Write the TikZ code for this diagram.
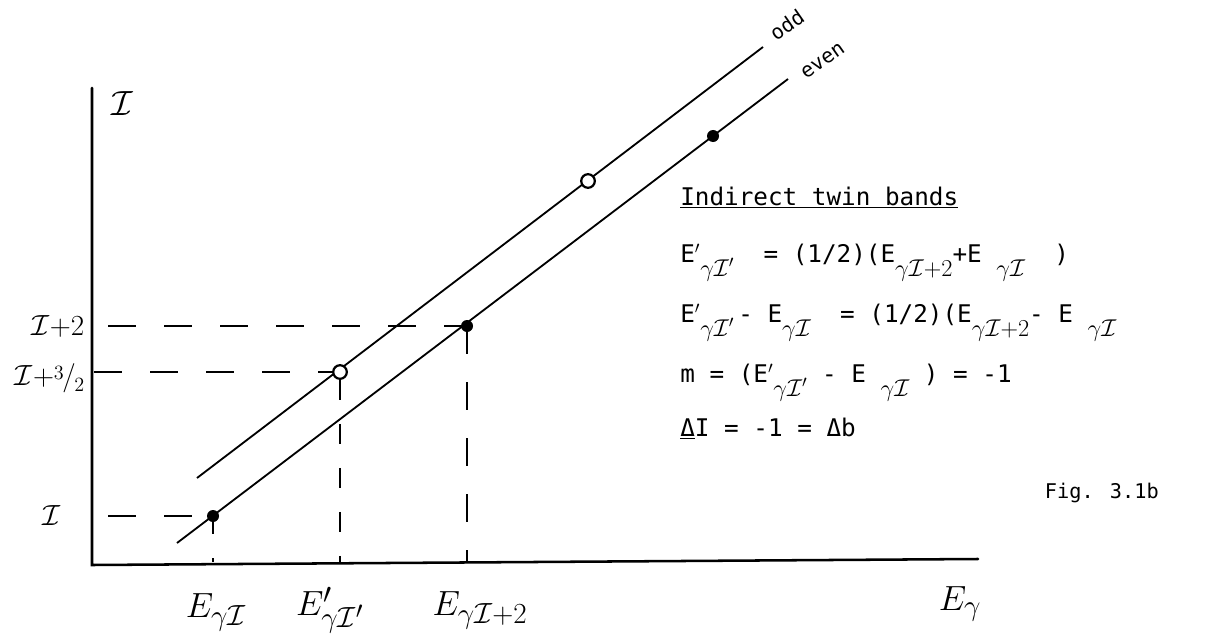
\documentclass[tikz,border=0pt]{standalone}
\usepackage{fontspec}
\newfontfamily\typed{DejaVu Sans Mono}
\usetikzlibrary{positioning}
\newcommand\lowsub[1]{\raisebox{-0.6em}{$#1$}}
\tikzset{
  axis/.style={line width=1.8pt,line cap=round},
  band/.style={line width=1.3pt},
  guide/.style={line width=1.4pt,dash pattern=on 0.7cm off 0.7cm},
  fulldot/.style={circle,fill=black,inner sep=0pt,minimum size=0.3cm},
  opendot/.style={circle,draw=black,line width=1.6pt,fill=white,inner sep=0pt,minimum size=0.34cm},
  hand/.style={font=\Huge,inner sep=1pt},
  level/.style={font=\huge,inner sep=1pt,anchor=east},
  typed/.style={font=\typed\LARGE,anchor=base west,inner sep=0pt},
  tag/.style={font=\typed\Large,anchor=base west,inner sep=0pt,rotate=35}
}
\begin{document}
\begin{tikzpicture}[x=0.025cm,y=-0.025cm]
  \useasboundingbox (0,0) rectangle (1210,644);
  % axes
  \coordinate (ytop) at (92,88);
  \coordinate (origin) at (92,565);
  \coordinate (xend) at (978,559);
  \draw[axis] (ytop) -- (origin) -- (xend);
  % the two bands
  \coordinate (odd-a) at (197,478);
  \coordinate (odd-b) at (763,47);
  \coordinate (even-a) at (177,543);
  \coordinate (even-b) at (788,79);
  \draw[band] (odd-a) -- (odd-b);
  \draw[band] (even-a) -- (even-b);
  \node[tag] (tagodd) at (776,42) {odd};
  \node[tag] (tageven) at (806,80) {even};
  % levels
  \node[fulldot] (pI) at (213,516) {};
  \node[fulldot] (pI2) at (467,326) {};
  \node[fulldot] (pI4) at (713,136) {};
  \node[opendot] (qI32) at (340,372) {};
  \node[opendot] (qI72) at (588,181) {};
  % guide lines to the axes
  \coordinate (yI) at (108,516);
  \coordinate (yI32) at (94,372);
  \coordinate (yI2) at (108,326);
  \coordinate (xI) at (213,562);
  \coordinate (xI32) at (340,562);
  \coordinate (xI2) at (467,562);
  \draw[guide] (yI) -- (pI.center);
  \draw[guide] (yI2) -- (pI2.center);
  \draw[guide] (yI32) -- (qI32.west);
  \draw[guide,dash pattern=on 0.45cm off 0.6cm] (pI.center) -- (xI);
  \draw[guide,dash pattern=on 0.5cm off 0.6cm] (qI32.south) -- (xI32);
  \draw[guide] (pI2.center) -- (xI2);
  % axis labels
  \node[hand] (lbly) at (122,104) {$\mathcal{I}$};
  \node[level] (lblI2) at (86,326) {$\mathcal{I}{+}2$};
  \node[level] (lblI32) at (86,378) {$\mathcal{I}{+}$\raisebox{0.45ex}{\Large 3}\kern-0.05em/\kern-0.05em\raisebox{-0.5ex}{\Large 2}};
  \node[level] (lblI) at (62,516) {$\mathcal{I}$};
  \node[hand] (lblE) at (216,612) {$E_{\gamma\mathcal{I}}$};
  \node[hand] (lblEp) at (330,610) {$E'_{\gamma\mathcal{I}'}$};
  \node[hand] (lblE2) at (480,610) {$E_{\gamma\mathcal{I}{+}2}$};
  \node[hand] (lblx) at (960,604) {$E_{\gamma}$};
  % relations
  \node[typed] (title) at (680,205) {\underline{Indirect twin bands}};
  \node[typed] (eqa) at (680,262) {E$'$\lowsub{\gamma\mathcal{I}'}\ \ = (1/2)(E\lowsub{\gamma\mathcal{I}{+}2}+E\ \lowsub{\gamma\mathcal{I}}\ \ )};
  \node[typed] (eqb) at (680,322) {E$'$\lowsub{\gamma\mathcal{I}'}\,- E\lowsub{\gamma\mathcal{I}}\ \ = (1/2)(E\lowsub{\gamma\mathcal{I}{+}2}- E\ \lowsub{\gamma\mathcal{I}}};
  \node[typed] (eqc) at (680,382) {m = (E$'$\lowsub{\gamma\mathcal{I}'}\ - E\ \lowsub{\gamma\mathcal{I}}\ ) = -1};
  \node[typed] (eqd) at (680,436) {\underline{Δ}I = -1 = Δb};
  \node[font=\typed\Large,anchor=base west] (fig) at (1040,498) {Fig. 3.1b};
\end{tikzpicture}
\end{document}
